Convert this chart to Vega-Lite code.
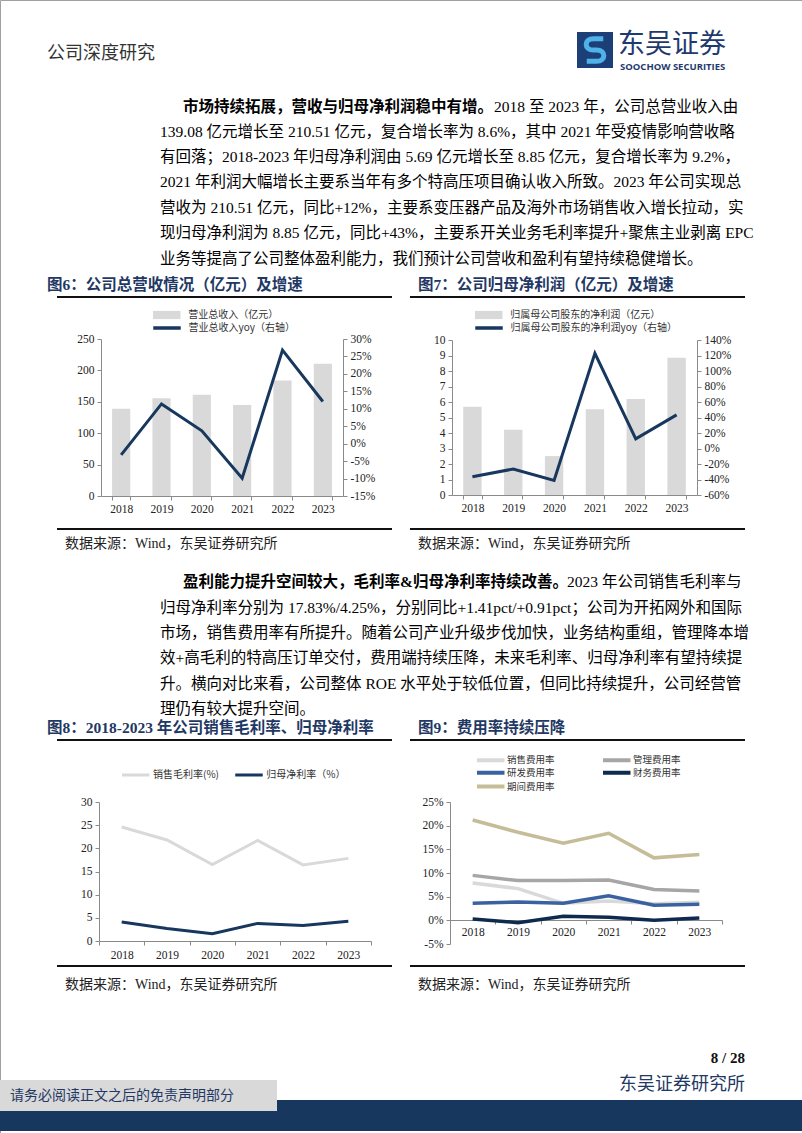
{
  "$schema": "https://vega.github.io/schema/vega-lite/v6.json",
  "width": 802,
  "height": 1133,
  "padding": 0,
  "autosize": {"type": "none"},
  "background": "#ffffff",
  "config": {
    "view": {"stroke": "#a0a0a0", "strokeWidth": 1},
    "font": "Liberation Serif, Noto Sans CJK SC",
    "axis": {"grid": false, "domainColor": "#8a8a8a", "tickColor": "#8a8a8a", "labelColor": "#222222", "labelFont": "Liberation Serif", "labelFontSize": 11.5, "tickSize": 4, "labelPadding": 3, "labelFlush": false, "labelOverlap": false, "labelAngle": 0},
    "legend": {"labelFont": "Noto Sans CJK SC", "labelFontSize": 10, "labelColor": "#333333", "padding": 0, "offset": 0, "labelLimit": 400, "symbolSize": 121, "rowPadding": 0}
  },
  "data": {"values": [{}]},
  "datasets": {
    "revenue": [
      {"year": "2018", "revenue": 139.08, "yoy": -3.2},
      {"year": "2019", "revenue": 155.5, "yoy": 11.4},
      {"year": "2020", "revenue": 161.3, "yoy": 3.7},
      {"year": "2021", "revenue": 145.1, "yoy": -9.9},
      {"year": "2022", "revenue": 184.0, "yoy": 26.8},
      {"year": "2023", "revenue": 210.51, "yoy": 12.1}
    ],
    "profit": [
      {"year": "2018", "profit": 5.69, "yoy": -36.4},
      {"year": "2019", "profit": 4.21, "yoy": -26.5},
      {"year": "2020", "profit": 2.51, "yoy": -41.1},
      {"year": "2021", "profit": 5.54, "yoy": 122.8},
      {"year": "2022", "profit": 6.19, "yoy": 12.5},
      {"year": "2023", "profit": 8.85, "yoy": 43.4}
    ],
    "margin": [
      {"year": "2018", "series": "销售毛利率(%)", "value": 24.6},
      {"year": "2019", "series": "销售毛利率(%)", "value": 21.8},
      {"year": "2020", "series": "销售毛利率(%)", "value": 16.5},
      {"year": "2021", "series": "销售毛利率(%)", "value": 21.7},
      {"year": "2022", "series": "销售毛利率(%)", "value": 16.42},
      {"year": "2023", "series": "销售毛利率(%)", "value": 17.83},
      {"year": "2018", "series": "归母净利率（%）", "value": 4.1},
      {"year": "2019", "series": "归母净利率（%）", "value": 2.7},
      {"year": "2020", "series": "归母净利率（%）", "value": 1.56},
      {"year": "2021", "series": "归母净利率（%）", "value": 3.8},
      {"year": "2022", "series": "归母净利率（%）", "value": 3.34},
      {"year": "2023", "series": "归母净利率（%）", "value": 4.25}
    ],
    "expense": [
      {"year": "2018", "series": "销售费用率", "value": 7.9},
      {"year": "2019", "series": "销售费用率", "value": 6.7},
      {"year": "2020", "series": "销售费用率", "value": 3.6},
      {"year": "2021", "series": "销售费用率", "value": 4.1},
      {"year": "2022", "series": "销售费用率", "value": 3.5},
      {"year": "2023", "series": "销售费用率", "value": 3.8},
      {"year": "2018", "series": "管理费用率", "value": 9.5},
      {"year": "2019", "series": "管理费用率", "value": 8.4},
      {"year": "2020", "series": "管理费用率", "value": 8.4},
      {"year": "2021", "series": "管理费用率", "value": 8.5},
      {"year": "2022", "series": "管理费用率", "value": 6.5},
      {"year": "2023", "series": "管理费用率", "value": 6.2},
      {"year": "2018", "series": "研发费用率", "value": 3.6},
      {"year": "2019", "series": "研发费用率", "value": 3.85},
      {"year": "2020", "series": "研发费用率", "value": 3.6},
      {"year": "2021", "series": "研发费用率", "value": 5.2},
      {"year": "2022", "series": "研发费用率", "value": 3.2},
      {"year": "2023", "series": "研发费用率", "value": 3.4},
      {"year": "2018", "series": "财务费用率", "value": 0.3},
      {"year": "2019", "series": "财务费用率", "value": -0.5},
      {"year": "2020", "series": "财务费用率", "value": 0.85},
      {"year": "2021", "series": "财务费用率", "value": 0.65},
      {"year": "2022", "series": "财务费用率", "value": 0.0},
      {"year": "2023", "series": "财务费用率", "value": 0.5},
      {"year": "2018", "series": "期间费用率", "value": 21.2},
      {"year": "2019", "series": "期间费用率", "value": 18.6},
      {"year": "2020", "series": "期间费用率", "value": 16.3},
      {"year": "2021", "series": "期间费用率", "value": 18.4},
      {"year": "2022", "series": "期间费用率", "value": 13.2},
      {"year": "2023", "series": "期间费用率", "value": 13.9}
    ]
  },
  "layer": [
    {"mark": {"type": "text", "x": 47, "y": 54, "text": "公司深度研究", "align": "left", "baseline": "middle", "font": "Noto Sans CJK SC", "fontSize": 18, "color": "#333333"}},
    {"mark": {"type": "rect", "x": 577, "x2": 613, "y": 32, "y2": 68, "color": "#1d3f78"}},
    {"mark": {"type": "point", "x": 595, "y": 50, "shape": "M0.55,-0.75 L-0.1,-0.75 C-0.75,-0.75 -0.75,0 -0.1,0 L0.1,0 C0.75,0 0.75,0.75 0.1,0.75 L-0.55,0.75", "size": 900, "filled": false, "stroke": "#4fb2e8", "strokeWidth": 5, "opacity": 1}},
    {"mark": {"type": "text", "x": 618, "y": 45, "text": "东吴证券", "align": "left", "baseline": "middle", "font": "Noto Sans CJK SC", "fontSize": 27, "color": "#1f3a6e"}},
    {"mark": {"type": "text", "x": 620, "y": 67, "text": "SOOCHOW SECURITIES", "align": "left", "baseline": "middle", "font": "Open Sans", "fontWeight": "bold", "fontSize": 9.5, "color": "#1f3a6e"}},

    {"mark": {"type": "text", "x": 183, "y": 107, "text": "市场持续拓展，营收与归母净利润稳中有增。", "align": "left", "baseline": "middle", "fontSize": 15.5, "fontWeight": "bold", "color": "#000000"}},
    {"mark": {"type": "text", "x": 494, "y": 107, "text": "2018 至 2023 年，公司总营业收入由", "align": "left", "baseline": "middle", "fontSize": 15.5, "color": "#000000"}},
    {"mark": {"type": "text", "x": 160, "y": 124.5, "lineHeight": 25.4, "align": "left", "baseline": "top", "fontSize": 15.5, "color": "#000000", "text": [
      "139.08 亿元增长至 210.51 亿元，复合增长率为 8.6%，其中 2021 年受疫情影响营收略",
      "有回落；2018-2023 年归母净利润由 5.69 亿元增长至 8.85 亿元，复合增长率为 9.2%，",
      "2021 年利润大幅增长主要系当年有多个特高压项目确认收入所致。2023 年公司实现总",
      "营收为 210.51 亿元，同比+12%，主要系变压器产品及海外市场销售收入增长拉动，实",
      "现归母净利润为 8.85 亿元，同比+43%，主要系开关业务毛利率提升+聚焦主业剥离 EPC",
      "业务等提高了公司整体盈利能力，我们预计公司营收和盈利有望持续稳健增长。"
    ]}},

    {"mark": {"type": "text", "x": 47, "y": 285, "text": "图6：公司总营收情况（亿元）及增速", "align": "left", "baseline": "middle", "fontSize": 15.5, "fontWeight": "bold", "color": "#1f3864"}},
    {"mark": {"type": "text", "x": 418, "y": 285, "text": "图7：公司归母净利润（亿元）及增速", "align": "left", "baseline": "middle", "fontSize": 15.5, "fontWeight": "bold", "color": "#1f3864"}},
    {"mark": {"type": "rect", "x": 57, "x2": 392, "y": 296, "y2": 298, "color": "#111111"}},
    {"mark": {"type": "rect", "x": 410, "x2": 745, "y": 296, "y2": 298, "color": "#111111"}},

    {
      "data": {"name": "revenue"},
      "mark": {"type": "bar"},
      "encoding": {
        "x": {"field": "year", "type": "ordinal", "scale": {"type": "band", "range": [101, 343], "paddingInner": 0.55, "paddingOuter": 0.275}, "axis": {"orient": "bottom", "offset": -637, "title": null, "tickBand": "extent"}},
        "y": {"field": "revenue", "type": "quantitative", "scale": {"domain": [0, 250], "range": [496, 339], "nice": false}, "axis": {"orient": "left", "offset": -101, "title": null, "values": [0, 50, 100, 150, 200, 250]}},
        "color": {"datum": "营业总收入（亿元）", "type": "nominal", "scale": {"range": ["#d9d9d9"]}, "legend": {"orient": "none", "legendX": 161.25, "legendY": 309.5, "symbolType": "M-2.5,-0.75H2.5V0.75H-2.5Z", "symbolStrokeWidth": 0, "labelOffset": 16, "title": null}}
      }
    },
    {
      "data": {"name": "revenue"},
      "mark": {"type": "line", "strokeWidth": 3, "strokeJoin": "miter"},
      "encoding": {
        "x": {"field": "year", "type": "ordinal", "scale": {"type": "band", "range": [101, 343], "paddingInner": 0.55, "paddingOuter": 0.275}, "axis": null},
        "y": {"field": "yoy", "type": "quantitative", "scale": {"domain": [-15, 30], "range": [496, 339], "nice": false, "zero": false}, "axis": {"orient": "right", "offset": -459, "title": null, "values": [-15, -10, -5, 0, 5, 10, 15, 20, 25, 30], "labelExpr": "datum.value + '%'"}},
        "stroke": {"datum": "营业总收入yoy（右轴）", "type": "nominal", "scale": {"range": ["#17375e"]}, "legend": {"orient": "none", "legendX": 159.5, "legendY": 320.5, "symbolType": "M-2.5,0H2.5", "symbolStrokeWidth": 3.5, "labelOffset": 14, "title": null}}
      }
    },
    {
      "data": {"name": "profit"},
      "mark": {"type": "bar"},
      "encoding": {
        "x": {"field": "year", "type": "ordinal", "scale": {"type": "band", "range": [452, 697], "paddingInner": 0.55, "paddingOuter": 0.275}, "axis": {"orient": "bottom", "offset": -638, "title": null, "tickBand": "extent"}},
        "y": {"field": "profit", "type": "quantitative", "scale": {"domain": [0, 10], "range": [495, 340], "nice": false}, "axis": {"orient": "left", "offset": -452, "title": null, "values": [0, 1, 2, 3, 4, 5, 6, 7, 8, 9, 10]}},
        "color": {"datum": "归属母公司股东的净利润（亿元）", "type": "nominal", "scale": {"range": ["#d9d9d9"]}, "legend": {"orient": "none", "legendX": 483.25, "legendY": 309.5, "symbolType": "M-2.5,-0.75H2.5V0.75H-2.5Z", "symbolStrokeWidth": 0, "labelOffset": 16, "title": null}}
      }
    },
    {
      "data": {"name": "profit"},
      "mark": {"type": "line", "strokeWidth": 3, "strokeJoin": "miter"},
      "encoding": {
        "x": {"field": "year", "type": "ordinal", "scale": {"type": "band", "range": [452, 697], "paddingInner": 0.55, "paddingOuter": 0.275}, "axis": null},
        "y": {"field": "yoy", "type": "quantitative", "scale": {"domain": [-60, 140], "range": [495, 340], "nice": false, "zero": false}, "axis": {"orient": "right", "offset": -105, "title": null, "values": [-60, -40, -20, 0, 20, 40, 60, 80, 100, 120, 140], "labelExpr": "datum.value + '%'"}},
        "stroke": {"datum": "归属母公司股东的净利润yoy（右轴）", "type": "nominal", "scale": {"range": ["#17375e"]}, "legend": {"orient": "none", "legendX": 481.5, "legendY": 320.5, "symbolType": "M-2.5,0H2.5", "symbolStrokeWidth": 3.5, "labelOffset": 14, "title": null}}
      }
    },

    {"mark": {"type": "rect", "x": 57, "x2": 392, "y": 528, "y2": 530, "color": "#111111"}},
    {"mark": {"type": "rect", "x": 410, "x2": 745, "y": 528, "y2": 530, "color": "#111111"}},
    {"mark": {"type": "text", "x": 65, "y": 544, "text": "数据来源：Wind，东吴证券研究所", "align": "left", "baseline": "middle", "fontSize": 14, "color": "#222222"}},
    {"mark": {"type": "text", "x": 418, "y": 544, "text": "数据来源：Wind，东吴证券研究所", "align": "left", "baseline": "middle", "fontSize": 14, "color": "#222222"}},

    {"mark": {"type": "text", "x": 183, "y": 582, "text": "盈利能力提升空间较大，毛利率&归母净利率持续改善。", "align": "left", "baseline": "middle", "fontSize": 15.5, "fontWeight": "bold", "color": "#000000"}},
    {"mark": {"type": "text", "x": 567, "y": 582, "text": "2023 年公司销售毛利率与", "align": "left", "baseline": "middle", "fontSize": 15.5, "color": "#000000"}},
    {"mark": {"type": "text", "x": 160, "y": 600.5, "lineHeight": 25.4, "align": "left", "baseline": "top", "fontSize": 15.5, "color": "#000000", "text": [
      "归母净利率分别为 17.83%/4.25%，分别同比+1.41pct/+0.91pct；公司为开拓网外和国际",
      "市场，销售费用率有所提升。随着公司产业升级步伐加快，业务结构重组，管理降本增",
      "效+高毛利的特高压订单交付，费用端持续压降，未来毛利率、归母净利率有望持续提",
      "升。横向对比来看，公司整体 ROE 水平处于较低位置，但同比持续提升，公司经营管",
      "理仍有较大提升空间。"
    ]}},

    {"mark": {"type": "text", "x": 47, "y": 728, "text": "图8：2018-2023 年公司销售毛利率、归母净利率", "align": "left", "baseline": "middle", "fontSize": 15.5, "fontWeight": "bold", "color": "#1f3864"}},
    {"mark": {"type": "text", "x": 418, "y": 728, "text": "图9：费用率持续压降", "align": "left", "baseline": "middle", "fontSize": 15.5, "fontWeight": "bold", "color": "#1f3864"}},
    {"mark": {"type": "rect", "x": 57, "x2": 392, "y": 739, "y2": 741, "color": "#111111"}},
    {"mark": {"type": "rect", "x": 410, "x2": 745, "y": 739, "y2": 741, "color": "#111111"}},

    {
      "data": {"name": "margin"},
      "mark": {"type": "line", "strokeWidth": 3, "strokeJoin": "miter"},
      "encoding": {
        "x": {"field": "year", "type": "ordinal", "scale": {"type": "band", "range": [99, 371], "paddingInner": 0, "paddingOuter": 0}, "axis": {"orient": "bottom", "offset": -192, "title": null, "tickBand": "extent", "labelPadding": 4}},
        "y": {"field": "value", "type": "quantitative", "scale": {"domain": [0, 30], "range": [941, 802], "nice": false}, "axis": {"orient": "left", "offset": -99, "title": null, "values": [0, 5, 10, 15, 20, 25, 30]}},
        "color": {"field": "series", "type": "nominal", "scale": {"domain": ["销售毛利率(%)", "归母净利率（%）"], "range": ["#d9d9d9", "#17375e"]}, "legend": {"orient": "none", "direction": "horizontal", "legendX": 128.75, "legendY": 768, "symbolType": "M-2.5,0H2.5", "symbolStrokeWidth": 3, "columnPadding": 9.25, "labelOffset": 10.25, "title": null}}
      }
    },
    {
      "data": {"name": "expense"},
      "transform": [{"filter": {"field": "series", "oneOf": ["销售费用率", "管理费用率"]}}],
      "mark": {"type": "line", "strokeWidth": 3.5, "strokeJoin": "miter"},
      "encoding": {
        "x": {"field": "year", "type": "ordinal", "scale": {"type": "band", "range": [450, 722], "paddingInner": 0, "paddingOuter": 0}, "axis": {"orient": "bottom", "offset": -213, "title": null, "tickBand": "extent", "labelPadding": 2}},
        "y": {"field": "value", "type": "quantitative", "scale": {"domain": [-5, 25], "range": [944, 802], "nice": false, "zero": false}, "axis": {"orient": "left", "offset": -450, "title": null, "values": [-5, 0, 5, 10, 15, 20, 25], "labelExpr": "datum.value + '%'"}},
        "color": {"field": "series", "type": "nominal", "scale": {"domain": ["销售费用率", "管理费用率"], "range": ["#d9d9d9", "#a6a6a6"]}, "legend": {"orient": "none", "direction": "horizontal", "legendX": 483.25, "legendY": 752.5, "symbolType": "M-2.5,0H2.5", "symbolStrokeWidth": 4, "columnPadding": 39, "labelOffset": 8.75, "labelFontSize": 9.5, "title": null}}
      }
    },
    {
      "data": {"name": "expense"},
      "transform": [{"filter": {"field": "series", "oneOf": ["研发费用率", "财务费用率"]}}],
      "mark": {"type": "line", "strokeWidth": 3.5, "strokeJoin": "miter"},
      "encoding": {
        "x": {"field": "year", "type": "ordinal", "scale": {"type": "band", "range": [450, 722], "paddingInner": 0, "paddingOuter": 0}, "axis": null},
        "y": {"field": "value", "type": "quantitative", "scale": {"domain": [-5, 25], "range": [944, 802], "nice": false, "zero": false}, "axis": null},
        "color": {"field": "series", "type": "nominal", "scale": {"domain": ["研发费用率", "财务费用率"], "range": ["#3b62a0", "#0f2a4f"]}, "legend": {"orient": "none", "direction": "horizontal", "legendX": 483.25, "legendY": 765, "symbolType": "M-2.5,0H2.5", "symbolStrokeWidth": 4, "columnPadding": 39, "labelOffset": 8.75, "labelFontSize": 9.5, "title": null}}
      }
    },
    {
      "data": {"name": "expense"},
      "transform": [{"filter": {"field": "series", "oneOf": ["期间费用率"]}}],
      "mark": {"type": "line", "strokeWidth": 3.5, "strokeJoin": "miter"},
      "encoding": {
        "x": {"field": "year", "type": "ordinal", "scale": {"type": "band", "range": [450, 722], "paddingInner": 0, "paddingOuter": 0}, "axis": null},
        "y": {"field": "value", "type": "quantitative", "scale": {"domain": [-5, 25], "range": [944, 802], "nice": false, "zero": false}, "axis": null},
        "color": {"field": "series", "type": "nominal", "scale": {"domain": ["期间费用率"], "range": ["#c4bd97"]}, "legend": {"orient": "none", "direction": "horizontal", "legendX": 483.25, "legendY": 779, "symbolType": "M-2.5,0H2.5", "symbolStrokeWidth": 4, "labelOffset": 8.75, "labelFontSize": 9.5, "title": null}}
      }
    },

    {"mark": {"type": "rect", "x": 57, "x2": 392, "y": 965, "y2": 967, "color": "#111111"}},
    {"mark": {"type": "rect", "x": 410, "x2": 745, "y": 965, "y2": 967, "color": "#111111"}},
    {"mark": {"type": "text", "x": 65, "y": 985, "text": "数据来源：Wind，东吴证券研究所", "align": "left", "baseline": "middle", "fontSize": 14, "color": "#222222"}},
    {"mark": {"type": "text", "x": 418, "y": 985, "text": "数据来源：Wind，东吴证券研究所", "align": "left", "baseline": "middle", "fontSize": 14, "color": "#222222"}},

    {"mark": {"type": "text", "x": 745, "y": 1058, "text": "8 / 28", "align": "right", "baseline": "middle", "font": "Liberation Serif", "fontSize": 15, "fontWeight": "bold", "color": "#111111"}},
    {"mark": {"type": "text", "x": 745, "y": 1085, "text": "东吴证券研究所", "align": "right", "baseline": "middle", "font": "Noto Sans CJK SC", "fontSize": 18, "color": "#1f3864"}},
    {"mark": {"type": "rect", "x": 0, "x2": 802, "y": 1100, "y2": 1131, "color": "#17375e"}},
    {"mark": {"type": "rect", "x": 0, "x2": 277, "y": 1080, "y2": 1111, "color": "#d9d9d9"}},
    {"mark": {"type": "text", "x": 10, "y": 1096, "text": "请务必阅读正文之后的免责声明部分", "align": "left", "baseline": "middle", "font": "Noto Sans CJK SC", "fontSize": 14, "color": "#1f3864"}}
  ],
  "resolve": {"scale": {"x": "independent", "y": "independent", "color": "independent", "stroke": "independent"}}
}
